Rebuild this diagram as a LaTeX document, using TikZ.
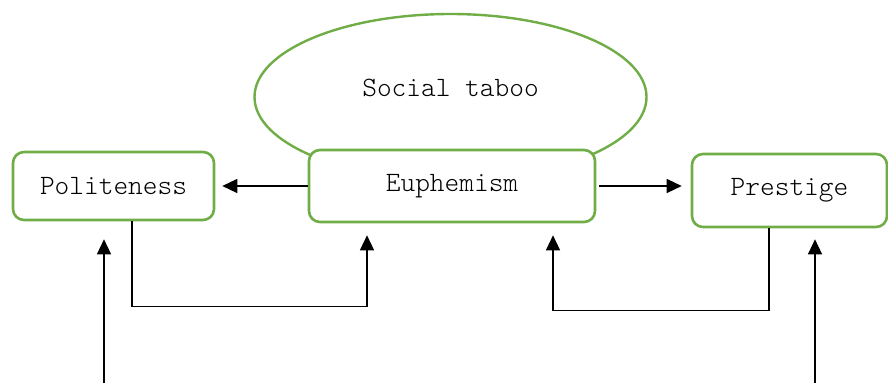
\documentclass[tikz,border=0pt]{standalone}
\usepackage{tikz}
\usetikzlibrary{calc,shapes.geometric,arrows,arrows.meta}
\definecolor{boxgreen}{RGB}{112,173,71}
\def\textsize{\fontsize{28}{31}\fontseries{l}\ttfamily}
\tikzstyle{arrow} = [line width=1.3pt,-{Triangle[length=15pt,width=14pt]}]

\begin{document}
\begin{tikzpicture}[x=1pt,y=-1pt]
    \tikzstyle{concept}=[rectangle,rounded corners=11pt,draw=boxgreen,line width=2.6pt,fill=white,font=\textsize,inner sep=0pt]
    \tikzstyle{taboo}=[ellipse,draw=boxgreen,line width=2.4pt,minimum width=392pt,minimum height=166pt,inner sep=0pt]
    \tikzstyle{annot}=[font=\textsize,inner sep=0pt]

    \useasboundingbox (0,0) rectangle (888,383);

    % Draw the taboo ellipse
    \node[taboo] (T) at (450.5,97) {};
    \node[annot] (T-text) at (450.5,88) {Social taboo};

    % Draw the concept boxes
    \node[concept,minimum width=286pt,minimum height=72pt] (E) at (452,186) {Euphemism};
    \node[concept,minimum width=201pt,minimum height=68pt] (P) at (113.5,186) {Politeness};
    \node[concept,minimum width=195pt,minimum height=73pt] (S) at (789.5,190.5) {Prestige};

    % Free ends at the bottom
    \coordinate (P-in) at (104,383);
    \coordinate (S-in) at (815,383);

    % Draw the connections
    \draw[arrow,shorten >=7pt] (E.west) -- (E.west -| P.east);
    \draw[arrow,shorten <=3pt,shorten >=9pt] (E.east) -- (E.east -| S.west);
    \draw[arrow,shorten >=12pt] ([xshift=18.5pt]P.south) -- ++(0,85) -| ([xshift=-85pt]E.south);
    \draw[arrow,shorten >=12pt] ([xshift=-20.5pt]S.south) -- ++(0,82) -| ([xshift=101pt]E.south);
    \draw[arrow,shorten >=18pt] (P-in) -- (P-in |- P.south);
    \draw[arrow,shorten >=11pt] (S-in) -- (S-in |- S.south);

\end{tikzpicture}
\end{document}
